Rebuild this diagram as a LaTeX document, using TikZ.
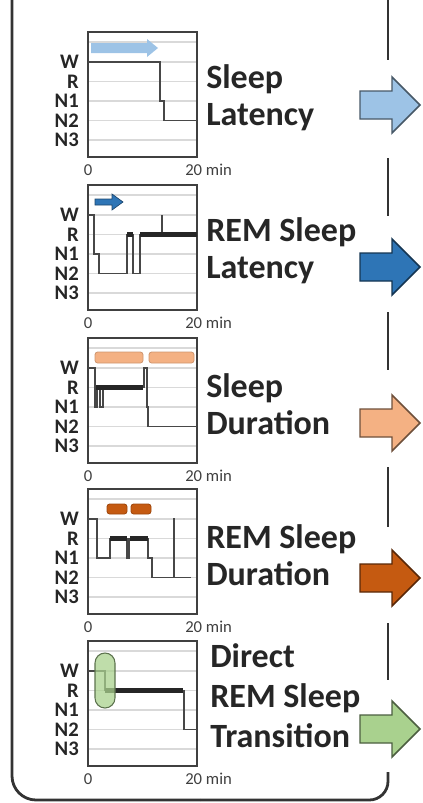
\documentclass[tikz,border=0pt]{standalone}
\usepackage{fontspec}
\setmainfont{Carlito}
\usetikzlibrary{arrows.meta,calc,positioning}

\definecolor{lightblue}{RGB}{157,195,230}
\definecolor{darkblue}{RGB}{46,117,182}
\definecolor{lightorange}{RGB}{244,177,131}
\definecolor{darkorange}{RGB}{197,90,17}
\definecolor{lightgreen}{RGB}{169,209,142}

\begin{document}
\begin{tikzpicture}[x=0.75pt,y=-0.75pt]
    \tikzstyle{frame}=[black!80,line width=2.1pt]
    \tikzstyle{gridline}=[black!15,line width=1pt]
    \tikzstyle{axbox}=[black!75,line width=1.4pt]
    \tikzstyle{hyp}=[black!72,line width=1.2pt]
    \tikzstyle{rem}=[black!85,line width=3.8pt]
    \tikzstyle{stagelab}=[font=\bfseries\fontsize{15.5}{15.5}\selectfont,text=black!85,anchor=east,inner sep=0pt]
    \tikzstyle{ticklab}=[font=\fontsize{12.5}{12.5}\selectfont,text=black!75,inner sep=0pt]
    \tikzstyle{title}=[font=\bfseries\fontsize{25.5}{27.75}\selectfont,text=black!85,align=left,anchor=west,inner sep=0pt]
    \tikzstyle{bar}=[line width=0.6pt,rounded corners=2pt]
    \tikzset{
      panel/.pic={
        \foreach \y in {10,30,49.5,69,88.5,108}
          \draw[gridline] (88,\y) -- (197,\y);
        \draw[axbox] (88,0) rectangle (197,125);
        \foreach \lab/\y in {W/30,R/49.5,N1/69,N2/88.5,N3/108}
          \node[stagelab] (-\lab) at (79,\y) {\lab};
        \node[ticklab] (-t0) at (88,138) {0};
        \node[ticklab,anchor=west] (-t20) at (185,138) {20 min};
      },
      bigarrow/.pic={
        \path[pic actions] (-30,-14) -- (2,-14) -- (2,-28) -- (30,0)
          -- (2,28) -- (2,14) -- (-30,14) -- cycle;
      }
    }
    \useasboundingbox (0,0) rectangle (423,803);

    % outer frame, dashed on the right
    \draw[frame,rounded corners=18pt] (12,0) -- (12,800) -- (200,800);
    \draw[frame,rounded corners=14pt] (200,800) -- (388,800) -- (388,772);
    \foreach \a/\b in {0/60,158/216,312/370,467/527,623/680}
      \draw[frame] (388,\a) -- (388,\b);

    % sleep latency
    \begin{scope}[shift={(0,32)}]
      \pic (p1) at (0,0) {panel};
      \fill[lightblue] (91,11) -- (147,11) -- (147,7) -- (158,16) -- (147,25) -- (147,21) -- (91,21) -- cycle;
      \draw[hyp] (88,30) -- (160,30) -- (160,69) -- (164,69) -- (164,88.5) -- (197,88.5);
      \node[title] (t1) at (206,66) {Sleep\\Latency};
    \end{scope}

    % REM sleep latency
    \begin{scope}[shift={(0,185)}]
      \pic (p2) at (0,0) {panel};
      \draw[fill=darkblue,draw=darkblue!60!black,line width=0.5pt] (95,14) -- (112,14) -- (112,9) -- (123,17) -- (112,25) -- (112,20) -- (95,20) -- cycle;
      \draw[hyp] (88,30) -- (94,30) -- (94,69) -- (99,69) -- (99,88.5) -- (127,88.5) -- (127,49.5)
        -- (133,49.5) -- (133,88.5) -- (140,88.5) -- (140,49.5) -- (162,49.5) -- (162,30)
        -- (162,49.5) -- (197,49.5);
      \draw[rem] (127,49.5) -- (133,49.5);
      \draw[rem] (140,49.5) -- (197,49.5);
      \node[title] (t2) at (206,66) {REM Sleep\\Latency};
    \end{scope}

    % sleep duration
    \begin{scope}[shift={(0,338)}]
      \pic (p3) at (0,0) {panel};
      \draw[bar,fill=lightorange,draw=lightorange!85!black] (95,14) rectangle (143,25);
      \draw[bar,fill=lightorange,draw=lightorange!85!black] (149,14) rectangle (194,25);
      \draw[hyp] (88,30) -- (95,30) -- (95,69) -- (97,69) -- (97,49.5) -- (100,49.5) -- (100,69)
        -- (103,69) -- (103,49.5) -- (144,49.5) -- (144,30) -- (147,30) -- (147,69)
        -- (148,69) -- (148,88.5) -- (197,88.5);
      \draw[rem] (96,49.5) -- (143,49.5);
      \node[title] (t3) at (206,66) {Sleep\\Duration};
    \end{scope}

    % REM sleep duration
    \begin{scope}[shift={(0,489)}]
      \pic (p4) at (0,0) {panel};
      \draw[bar,fill=darkorange,draw=darkorange!80!black] (107,15) rectangle (127,25);
      \draw[bar,fill=darkorange,draw=darkorange!80!black] (131,15) rectangle (151,25);
      \draw[hyp] (88,30) -- (97,30) -- (97,69) -- (110,69) -- (110,49.5) -- (127,49.5) -- (127,69)
        -- (129,69) -- (129,49.5) -- (148,49.5) -- (148,69) -- (152,69) -- (152,88.5)
        -- (174,88.5) -- (174,30) -- (174.5,30) -- (174.5,88.5) -- (191,88.5);
      \draw[rem] (110,49.5) -- (127,49.5);
      \draw[rem] (130,49.5) -- (148,49.5);
      \node[title] (t4) at (206,66) {REM Sleep\\Duration};
    \end{scope}

    % direct REM sleep transition
    \begin{scope}[shift={(0,641)}]
      \pic (p5) at (0,0) {panel};
      \draw[hyp] (88,30) -- (105,30) -- (105,49.5) -- (184,49.5) -- (184,88.5) -- (197,88.5);
      \draw[rem] (105,49.5) -- (183,49.5);
      \draw[fill=lightgreen,fill opacity=0.75,draw=lightgreen!55!black,line width=0.8pt,rounded corners=7.5pt]
        (95,12) rectangle (115,67);
      \node[title,font=\bfseries\fontsize{25.5}{30}\selectfont] (t5) at (210,55) {Direct\\REM Sleep\\Transition};
    \end{scope}

    % block arrows on the right
    \foreach \y/\c in {105/lightblue,267/darkblue,423/lightorange,578/darkorange,729/lightgreen}
      \pic[fill=\c,draw=\c!45!black,line width=1.1pt] at (390,\y) {bigarrow};
\end{tikzpicture}
\end{document}
